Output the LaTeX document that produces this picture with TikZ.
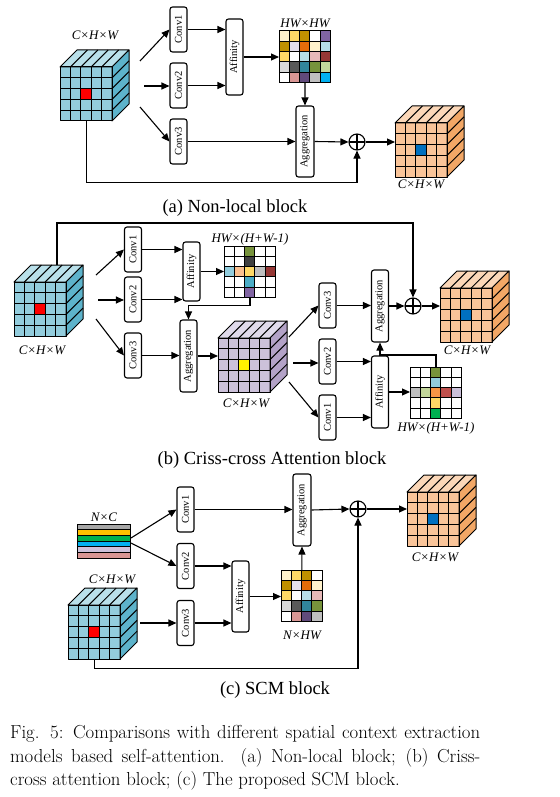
\documentclass[tikz,border=0pt]{standalone}
\usepackage{graphicx}
\usepackage{fontspec}
\newfontfamily\timesfont{Liberation Serif}
\usetikzlibrary{arrows.meta}

% cube colours
\definecolor{cubeblue}{HTML}{93CDDD}
\definecolor{cubebluetop}{HTML}{B9E0EA}
\definecolor{cubeblueside}{HTML}{5DB3CB}
\definecolor{cubeorange}{HTML}{F9C499}
\definecolor{cubeorangetop}{HTML}{FBD7B8}
\definecolor{cubeorangeside}{HTML}{F2A766}
\definecolor{cubepurple}{HTML}{CCC1DA}
\definecolor{cubepurpletop}{HTML}{E0DAEB}
\definecolor{cubepurpleside}{HTML}{B3A2C7}
\definecolor{markblue}{HTML}{0070C0}
% map colours
\definecolor{mcream}{HTML}{FFF2CC}
\definecolor{mgold}{HTML}{FFD966}
\definecolor{mdarkgold}{HTML}{BF9000}
\definecolor{mpurple}{HTML}{8064A2}
\definecolor{mlavender}{HTML}{E4DFEC}
\definecolor{morange}{HTML}{E46C0A}
\definecolor{mlightblue}{HTML}{B7DEE8}
\definecolor{mpink}{HTML}{E6B9B8}
\definecolor{mdarkred}{HTML}{953735}
\definecolor{mlightgray}{HTML}{D9D9D9}
\definecolor{mdarkgray}{HTML}{595959}
\definecolor{mteal}{HTML}{31859C}
\definecolor{molive}{HTML}{77933C}
\definecolor{mlightgreen}{HTML}{C3D69B}
\definecolor{mrose}{HTML}{D99694}
\definecolor{mdarkpurple}{HTML}{604A7B}
\definecolor{mgray}{HTML}{BFBFBF}
\definecolor{mskyblue}{HTML}{00B0F0}
\definecolor{mcharcoal}{HTML}{404040}
\definecolor{mcyan}{HTML}{93CDDD}
\definecolor{mpeach}{HTML}{FAC090}
\definecolor{mtealblue}{HTML}{4BACC6}
\definecolor{morangelight}{HTML}{F79646}
\definecolor{mred}{HTML}{C0504D}
\definecolor{mlav}{HTML}{CCC1DA}
\definecolor{mgreen}{HTML}{00B050}
\definecolor{mamber}{HTML}{FFC000}
\definecolor{mstackgray}{HTML}{A6A6A6}

\tikzset{
  cubeline/.style={line width=1pt, line join=round},
  mapline/.style={line width=1pt},
  opbox/.style={draw, rounded corners=2.5pt, line width=1.1pt, minimum width=17pt, inner sep=0pt,
    font=\timesfont\fontsize{10.5}{12}\selectfont},
  sumnode/.style={circle, draw, line width=1.1pt, minimum size=16pt, inner sep=0pt,
    path picture={\draw[line width=1.1pt] (path picture bounding box.north) -- (path picture bounding box.south)
      (path picture bounding box.west) -- (path picture bounding box.east);}},
  flow/.style={line width=1.1pt, -{Triangle[length=8pt,width=7pt]}},
  dimlabel/.style={inner sep=0pt, font=\timesfont\itshape\fontsize{13}{15}\selectfont},
  subcap/.style={inner sep=0pt, font=\timesfont\fontsize{18.5}{21}\selectfont},
  figcap/.style={inner sep=0pt, anchor=base west, font=\fontsize{18.8}{22}\selectfont},
}

% feature cube: name, x, y (top left of front face), front, top, side, marked cell
\newcommand{\featcube}[7]{%
  \begin{scope}[shift={(#2,#3)}]
    \fill[#4] (0,0) rectangle (52,54);
    \filldraw[fill=#5, cubeline] (0,0) -- (17,-17) -- (69,-17) -- (52,0) -- cycle;
    \filldraw[fill=#6, cubeline] (52,0) -- (69,-17) -- (69,37) -- (52,54) -- cycle;
    \fill[#7] (20.8,21.6) rectangle (31.2,32.4);
    \foreach \k in {1,...,4} {
      \draw[cubeline] (\k*10.4,0) -- (\k*10.4,54);
      \draw[cubeline] (0,\k*10.8) -- (52,\k*10.8);
      \draw[cubeline] (\k*10.4,0) -- ++(17,-17);
      \draw[cubeline] (52,\k*10.8) -- ++(17,-17);
    }
    \draw[cubeline] (0,0) rectangle (52,54);
  \end{scope}
  \node[inner sep=0pt, minimum width=52pt, minimum height=54pt, anchor=north west] (#1) at (#2,#3) {};
}

% attention map: name, x, y, columns, rows of colours
\newcommand{\attnmap}[5]{%
  \foreach \rowcols [count=\ri] in {#5} {
    \foreach \cellcol [count=\ci] in \rowcols {
      \filldraw[fill=\cellcol, mapline] ({#2+(\ci-1)*10.3},{#3+(\ri-1)*10.3}) rectangle ++(10.3,10.3);
    }
  }
  \node[inner sep=0pt, minimum width={#4*10.3pt}, minimum height=51.5pt, anchor=north west] (#1) at (#2,#3) {};
}

\begin{document}
\begin{tikzpicture}[x=1pt,y=-1pt]
  \useasboundingbox (0,0) rectangle (559,797);

  % (a) Non-local block
  \featcube{inA}{60}{67}{cubeblue}{cubebluetop}{cubeblueside}{red}
  \node[dimlabel] (inAlab) at (95,35) {C×H×W};
  \node[opbox, minimum height=45pt] (convAa) at (178.5,29.5) {\rotatebox{90}{Conv1}};
  \node[opbox, minimum height=45pt] (convAb) at (178.5,85.5) {\rotatebox{90}{Conv2}};
  \node[opbox, minimum height=45pt] (convAc) at (178.5,141.5) {\rotatebox{90}{Conv3}};
  \node[opbox, minimum height=76pt] (affA) at (234.5,57) {\rotatebox{90}{Affinity}};
  \attnmap{mapA}{279}{31}{5}{{mcream,mgold,mdarkgold,white,mpurple},
    {mdarkgold,mlavender,morange,mcream,mlightblue},
    {mgold,white,mlightblue,mpink,mdarkred},
    {mlightgray,mdarkgray,mteal,molive,mlightgreen},
    {white,mrose,mdarkpurple,mgray,mskyblue}}
  \node[dimlabel] (mapAlab) at (305,23) {HW×HW};
  \node[opbox, minimum height=71pt, minimum width=18pt] (aggA) at (305,141.5) {\rotatebox{90}{Aggregation}};
  \node[sumnode] (sumA) at (357,142) {};
  \featcube{outA}{395}{123}{cubeorange}{cubeorangetop}{cubeorangeside}{markblue}
  \node[dimlabel] (outAlab) at (421,184) {C×H×W};

  \coordinate (srcAa) at (140,61);
  \coordinate (srcAb) at (144,86);
  \coordinate (srcAc) at (140,107);
  \draw[flow] (srcAa) -- (convAa.west);
  \draw[flow] (srcAb) -- (srcAb -| convAb.west);
  \draw[flow] (srcAc) -- (convAc.west);
  \draw[flow] (convAa.east) -- (convAa.east -| affA.west);
  \draw[flow] (convAb.east) -- (convAb.east -| affA.west);
  \draw[flow] (affA.east) -- (affA.east -| mapA.west);
  \draw[flow] (mapA.south) -- (aggA.north);
  \draw[flow] (convAc.east) -- (aggA.west);
  \draw[flow] (aggA.east) -- (sumA.west);
  \draw[flow] (sumA.east) -- (sumA.east -| outA.west);
  \draw[flow] (inA.south) -- ++(0,61) -| (sumA.south);
  \node[subcap] (capa) at (235,208) {(a) Non-local block};

  % (b) Criss-cross Attention block
  \featcube{inB}{14}{282}{cubeblue}{cubebluetop}{cubeblueside}{red}
  \node[dimlabel] (inBlab) at (42,350) {C×H×W};
  \node[opbox, minimum height=45pt] (convBa) at (133,249.5) {\rotatebox{90}{Conv1}};
  \node[opbox, minimum height=45pt] (convBb) at (133,299.5) {\rotatebox{90}{Conv2}};
  \node[opbox, minimum height=45pt] (convBc) at (133,355.5) {\rotatebox{90}{Conv3}};
  \node[opbox, minimum height=59pt] (affB) at (191.5,271.5) {\rotatebox{90}{Affinity}};
  \attnmap{mapB}{224}{246}{5}{{white,white,molive,white,white},
    {white,white,mcharcoal,white,white},
    {mcyan,mpeach,mgold,mgray,mdarkred},
    {white,white,mtealblue,white,white},
    {white,white,mpurple,white,white}}
  \node[dimlabel] (mapBlab) at (250,239) {HW×(H+W-1)};
  \node[opbox, minimum height=72pt] (aggB) at (188.5,356) {\rotatebox{90}{Aggregation}};
  \featcube{midB}{218}{338}{cubepurple}{cubepurpletop}{cubepurpleside}{yellow}
  \node[dimlabel] (midBlab) at (246,403) {C×H×W};
  \node[opbox, minimum height=45pt] (convBd) at (327.5,305.5) {\rotatebox{90}{Conv3}};
  \node[opbox, minimum height=45pt] (convBe) at (327.5,361.5) {\rotatebox{90}{Conv2}};
  \node[opbox, minimum height=45pt] (convBf) at (327.5,417.5) {\rotatebox{90}{Conv1}};
  \node[opbox, minimum height=72pt] (aggBb) at (380,306) {\rotatebox{90}{Aggregation}};
  \node[opbox, minimum height=72pt] (affBb) at (380,392) {\rotatebox{90}{Affinity}};
  \attnmap{mapBb}{410}{367}{5}{{white,white,molive,white,white},
    {white,white,mcyan,white,white},
    {mgray,mlightgreen,morangelight,mred,mlav},
    {white,white,mgold,white,white},
    {white,white,mgreen,white,white}}
  \node[dimlabel] (mapBblab) at (436,428) {HW×(H+W-1)};
  \node[sumnode] (sumB) at (413,306) {};
  \featcube{outB}{440}{288}{cubeorange}{cubeorangetop}{cubeorangeside}{markblue}
  \node[dimlabel] (outBlab) at (467,350) {C×H×W};

  \coordinate (topB) at (57,265);
  \coordinate (srcBa) at (96,275);
  \coordinate (srcBb) at (98,300);
  \coordinate (srcBc) at (96,319);
  \coordinate (srcBd) at (289,337);
  \coordinate (srcBe) at (293,363);
  \coordinate (srcBf) at (289,382);
  \draw[flow] (topB) -- ++(0,-42) -| (sumB.north);
  \draw[flow] (srcBa) -- (convBa.west);
  \draw[flow] (srcBb) -- (srcBb -| convBb.west);
  \draw[flow] (srcBc) -- (convBc.west);
  \draw[flow] (convBa.east) -- (convBa.east -| affB.west);
  \draw[flow] (convBb.east) -- (convBb.east -| affB.west);
  \draw[flow] (affB.east) -- (affB.east -| mapB.west);
  \draw[flow] (mapB.south) -- ++(0,8) -| (aggB.north);
  \draw[flow] (convBc.east) -- (convBc.east -| aggB.west);
  \draw[flow] (aggB.east) -- (aggB.east -| midB.west);
  \draw[flow] (srcBd) -- (convBd.west);
  \draw[flow] (srcBe) -- (srcBe -| convBe.west);
  \draw[flow] (srcBf) -- (convBf.west);
  \draw[flow] (convBd.east) -- (convBd.east -| aggBb.west);
  \draw[flow] (convBe.east) -- (convBe.east -| affBb.west);
  \draw[flow] (convBf.east) -- (convBf.east -| affBb.west);
  \draw[flow] (affBb.east) -- (affBb.east -| mapBb.west);
  \draw[flow] (mapBb.north) -- ++(0,-12) -| (aggBb.south);
  \draw[flow] (aggBb.east) -- (sumB.west);
  \draw[flow] (sumB.east) -- (sumB.east -| outB.west);
  \node[subcap] (capb) at (272,460) {(b) Criss-cross Attention block};

  % (c) SCM block
  \foreach \barcol [count=\bi] in {mstackgray,mamber,mgreen,mskyblue,mlav,mrose}
    \filldraw[fill=\barcol, mapline] (77,{524+(\bi-1)*5.7}) rectangle ++(53,5.7);
  \node[inner sep=0pt, minimum width=53pt, minimum height=34.2pt, anchor=north west] (stackC) at (77,524) {};
  \node[dimlabel] (stackClab) at (104,517) {N×C};
  \node[opbox, minimum height=45pt] (convCa) at (185.5,509.5) {\rotatebox{90}{Conv1}};
  \node[opbox, minimum height=45pt] (convCb) at (185.5,566) {\rotatebox{90}{Conv2}};
  \node[opbox, minimum height=45pt] (convCc) at (185.5,623) {\rotatebox{90}{Conv3}};
  \featcube{inC}{68}{605}{cubeblue}{cubebluetop}{cubeblueside}{red}
  \node[dimlabel] (inClab) at (112,579) {C×H×W};
  \node[opbox, minimum height=71pt] (affC) at (240.5,596.5) {\rotatebox{90}{Affinity}};
  \attnmap{mapC}{281}{570}{4}{{mcream,mgold,mdarkgold,white},
    {mdarkgold,mlavender,morange,mcream},
    {mgold,white,mlightblue,mpink},
    {mlightgray,mdarkgray,mteal,molive},
    {white,mrose,mdarkpurple,mgray}}
  \node[dimlabel] (mapClab) at (302,635) {N×HW};
  \node[opbox, minimum height=72pt, minimum width=18pt] (aggC) at (302,510) {\rotatebox{90}{Aggregation}};
  \node[sumnode] (sumC) at (358,509) {};
  \featcube{outC}{407}{492}{cubeorange}{cubeorangetop}{cubeorangeside}{markblue}
  \node[dimlabel] (outClab) at (435,557) {C×H×W};

  \coordinate (srcCa) at (131,538);
  \coordinate (srcCb) at (131,543);
  \coordinate (srcCc) at (140,623);
  \draw[flow] (srcCa) -- (convCa.west);
  \draw[flow] (srcCb) -- (convCb.west);
  \draw[flow] (srcCc) -- (convCc.west);
  \draw[flow] (convCa.east) -- (convCa.east -| aggC.west);
  \draw[flow] (convCb.east) -- (convCb.east -| affC.west);
  \draw[flow] (convCc.east) -- (convCc.east -| affC.west);
  \draw[flow] (affC.east) -- (affC.east -| mapC.west);
  \draw[flow] (mapC.north) -- (aggC.south);
  \draw[flow] (aggC.east) -- (sumC.west);
  \draw[flow] (sumC.east) -- (sumC.east -| outC.west);
  \draw[flow] (inC.south) -- ++(0,9) -| (sumC.south);
  \node[subcap] (capc) at (275,690) {(c) SCM block};

  % figure caption
  \node[figcap] (figa) at (10,738) {\makebox[470pt][s]{Fig. 5: Comparisons with different spatial context extraction}};
  \node[figcap] (figb) at (10,762) {\makebox[470pt][s]{models based self-attention. (a) Non-local block; (b) Criss-}};
  \node[figcap] (figc) at (10,785) {cross attention block; (c) The proposed SCM block.};
\end{tikzpicture}
\end{document}
